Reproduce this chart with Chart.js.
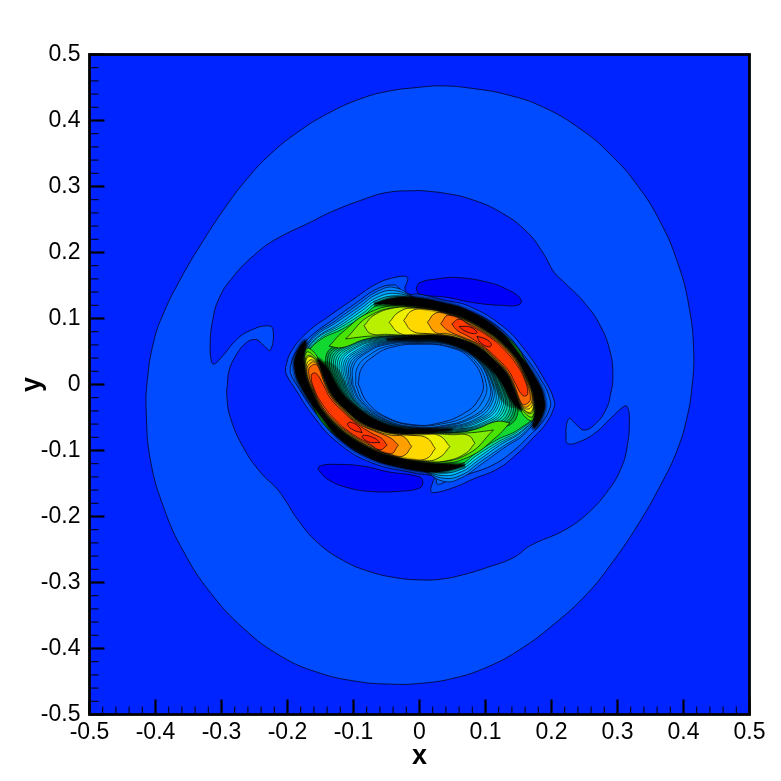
<!DOCTYPE html>
<html>
<head>
<meta charset="utf-8">
<title>contour</title>
<script src="https://cdn.jsdelivr.net/npm/chart.js@4/dist/chart.umd.min.js"></script>
<style>
  html, body { margin: 0; background: #fff; }
  canvas { display: block; }
</style>
</head>
<body>
<canvas id="chart" width="781" height="781"></canvas>
<script>
// axis values
const xMajor = [-0.5, -0.4, -0.3, -0.2, -0.1, 0, 0.1, 0.2, 0.3, 0.4, 0.5];
const yMajor = [-0.5, -0.4, -0.3, -0.2, -0.1, 0, 0.1, 0.2, 0.3, 0.4, 0.5];
const minorTicks = [-0.48, -0.46, -0.44, -0.42, -0.38, -0.36, -0.34, -0.32, -0.28, -0.26, -0.24, -0.22, -0.18, -0.16, -0.14, -0.12, -0.08, -0.06, -0.04, -0.02, 0.02, 0.04, 0.06, 0.08, 0.12, 0.14, 0.16, 0.18, 0.22, 0.24, 0.26, 0.28, 0.32, 0.34, 0.36, 0.38, 0.42, 0.44, 0.46, 0.48];

// contour lines, [x, y]
const field = [[-0.5, -0.5], [0.5, -0.5], [0.5, 0.5], [-0.5, 0.5]];
const outerBlob = [[0, 0.4505], [-0.044, 0.445], [-0.089, 0.433], [-0.14, 0.41], [-0.185, 0.382], [-0.226, 0.349], [-0.261, 0.312], [-0.296, 0.266], [-0.332, 0.211], [-0.362, 0.16], [-0.387, 0.11], [-0.403, 0.064], [-0.413, 0], [-0.414, -0.042], [-0.408, -0.113], [-0.387, -0.188], [-0.357, -0.254], [-0.317, -0.315], [-0.266, -0.37], [-0.211, -0.411], [-0.155, -0.436], [-0.094, -0.45], [-0.044, -0.454], [0, -0.453], [0.052, -0.445], [0.103, -0.428], [0.153, -0.401], [0.204, -0.363], [0.254, -0.317], [0.294, -0.267], [0.33, -0.214], [0.365, -0.153], [0.391, -0.098], [0.406, -0.047], [0.413, -0.002], [0.4155, 0.05], [0.408, 0.12], [0.391, 0.185], [0.365, 0.246], [0.33, 0.302], [0.289, 0.349], [0.244, 0.387], [0.188, 0.42], [0.133, 0.439], [0.077, 0.449], [0.032, 0.4525]];
const innerBlob = [[0, 0.294], [-0.049, 0.291], [-0.089, 0.279], [-0.135, 0.261], [-0.165, 0.246], [-0.216, 0.221], [-0.246, 0.2], [-0.281, 0.165], [-0.304, 0.13], [-0.314, 0.094], [-0.317, 0.064], [-0.316, 0.039], [-0.312, 0.031], [-0.302, 0.039], [-0.276, 0.069], [-0.256, 0.082], [-0.231, 0.089], [-0.222, 0.084], [-0.226, 0.052], [-0.236, 0.059], [-0.248, 0.068], [-0.264, 0.062], [-0.281, 0.039], [-0.289, 0.019], [-0.291, 0], [-0.292, -0.017], [-0.286, -0.052], [-0.266, -0.097], [-0.241, -0.133], [-0.216, -0.158], [-0.203, -0.176], [-0.185, -0.204], [-0.155, -0.239], [-0.115, -0.267], [-0.074, -0.284], [-0.034, -0.293], [0, -0.296], [0.032, -0.295], [0.067, -0.288], [0.103, -0.277], [0.143, -0.262], [0.168, -0.244], [0.219, -0.221], [0.254, -0.196], [0.284, -0.163], [0.305, -0.128], [0.315, -0.092], [0.318, -0.052], [0.315, -0.034], [0.31, -0.033], [0.289, -0.052], [0.264, -0.075], [0.239, -0.088], [0.226, -0.09], [0.222, -0.085], [0.226, -0.052], [0.239, -0.062], [0.249, -0.069], [0.264, -0.062], [0.282, -0.039], [0.29, -0.012], [0.293, 0.014], [0.289, 0.049], [0.274, 0.089], [0.249, 0.125], [0.219, 0.155], [0.204, 0.17], [0.188, 0.198], [0.163, 0.231], [0.123, 0.261], [0.077, 0.281], [0.037, 0.29]];
const lobeTop = [[-0.005, 0.145], [0, 0.154], [0.027, 0.16], [0.057, 0.162], [0.103, 0.155], [0.133, 0.144], [0.153, 0.13], [0.151, 0.121], [0.123, 0.12], [0.082, 0.124], [0.042, 0.132], [0, 0.137]];
const lobeBottom = [[-0.154, -0.128], [-0.15, -0.123], [-0.125, -0.121], [-0.084, -0.124], [-0.049, -0.132], [0, -0.14], [0.005, -0.148], [0, -0.157], [-0.034, -0.162], [-0.074, -0.162], [-0.11, -0.156], [-0.14, -0.143]];

const ring1 = [[-0.203, 0.026], [-0.195, 0.049], [-0.17, 0.079], [-0.135, 0.105], [-0.099, 0.13], [-0.064, 0.153], [-0.034, 0.163], [-0.019, 0.163], [-0.018, 0.158], [-0.022, 0.145], [-0.016, 0.137], [-0.002, 0.137], [0.037, 0.128], [0.074, 0.119], [0.125, 0.089], [0.16, 0.052], [0.19, 0.006], [0.204, -0.024], [0.203, -0.037], [0.191, -0.06], [0.173, -0.08], [0.148, -0.105], [0.118, -0.128], [0.082, -0.143], [0.052, -0.156], [0.022, -0.164], [0.017, -0.161], [0.02, -0.148], [0.022, -0.14], [0.012, -0.137], [-0.004, -0.135], [-0.074, -0.118], [-0.125, -0.087], [-0.16, -0.049], [-0.19, -0.004], [-0.202, 0.016]];
const ring2 = [[-0.196, 0.026], [-0.189, 0.046], [-0.165, 0.073], [-0.13, 0.099], [-0.094, 0.125], [-0.064, 0.145], [-0.039, 0.151], [-0.031, 0.146], [-0.026, 0.137], [-0.004, 0.131], [0.037, 0.123], [0.072, 0.113], [0.123, 0.084], [0.157, 0.046], [0.186, 0.004], [0.198, -0.024], [0.197, -0.037], [0.186, -0.057], [0.168, -0.076], [0.143, -0.1], [0.113, -0.121], [0.077, -0.135], [0.057, -0.14], [0.042, -0.146], [0.027, -0.151], [0.024, -0.14], [0.012, -0.133], [-0.004, -0.13], [-0.072, -0.113], [-0.122, -0.082], [-0.156, -0.045], [-0.185, -0.002], [-0.195, 0.016]];
const ring3 = [[-0.182, 0.037], [-0.162, 0.072], [-0.128, 0.096], [-0.092, 0.122], [-0.064, 0.141], [-0.038, 0.147], [-0.004, 0.13], [0.119, 0.081], [0.174, 0.003], [0.182, -0.037], [0.162, -0.072], [0.128, -0.096], [0.092, -0.122], [0.064, -0.141], [0.038, -0.147], [0.004, -0.13], [-0.119, -0.081], [-0.174, -0.003]];
const ring4 = [[-0.181, 0.038], [-0.16, 0.071], [-0.126, 0.094], [-0.091, 0.118], [-0.064, 0.137], [-0.037, 0.142], [-0.004, 0.13], [0.12, 0.081], [0.174, 0.003], [0.181, -0.038], [0.16, -0.071], [0.126, -0.094], [0.091, -0.118], [0.064, -0.137], [0.037, -0.142], [0.004, -0.13], [-0.12, -0.081], [-0.174, -0.003]];
const ring5 = [[-0.18, 0.038], [-0.157, 0.07], [-0.123, 0.091], [-0.089, 0.115], [-0.064, 0.132], [-0.036, 0.138], [-0.004, 0.129], [0.12, 0.08], [0.175, 0.002], [0.18, -0.038], [0.157, -0.07], [0.123, -0.091], [0.089, -0.115], [0.064, -0.132], [0.036, -0.138], [0.004, -0.129], [-0.12, -0.08], [-0.175, -0.002]];
const ring6 = [[-0.18, 0.039], [-0.155, 0.07], [-0.121, 0.089], [-0.087, 0.112], [-0.064, 0.128], [-0.036, 0.134], [-0.004, 0.128], [0.121, 0.08], [0.175, 0.002], [0.18, -0.039], [0.155, -0.07], [0.121, -0.089], [0.087, -0.112], [0.064, -0.128], [0.036, -0.134], [0.004, -0.128], [-0.121, -0.08], [-0.175, -0.002]];
const ring7 = [[-0.179, 0.04], [-0.152, 0.069], [-0.119, 0.087], [-0.086, 0.108], [-0.064, 0.124], [-0.035, 0.129], [-0.004, 0.128], [0.122, 0.08], [0.176, 0.001], [0.179, -0.04], [0.152, -0.069], [0.119, -0.087], [0.086, -0.108], [0.064, -0.124], [0.035, -0.129], [0.004, -0.128], [-0.122, -0.08], [-0.176, -0.001]];
const ring8 = [[-0.178, 0.041], [-0.15, 0.068], [-0.117, 0.084], [-0.084, 0.105], [-0.064, 0.12], [-0.034, 0.125], [-0.004, 0.127], [0.123, 0.079], [0.176, 0.001], [0.178, -0.041], [0.15, -0.068], [0.117, -0.084], [0.084, -0.105], [0.064, -0.12], [0.034, -0.125], [0.004, -0.127], [-0.123, -0.079], [-0.176, -0.001]];

const wall9 = [[-0.13, -0.004], [-0.142, 0.041], [-0.122, 0.062], [-0.079, 0.074], [0.002, 0.073], [0.057, 0.069], [0.108, 0.041], [0.14, -0.012], [0.148, -0.047], [0.123, -0.067], [0.072, -0.075], [-0.004, -0.072], [-0.059, -0.065], [-0.12, -0.024]];
const wall85 = [[-0.127, -0.004], [-0.139, 0.04], [-0.119, 0.06], [-0.077, 0.073], [0.002, 0.072], [0.056, 0.068], [0.106, 0.041], [0.137, -0.011], [0.144, -0.045], [0.119, -0.065], [0.069, -0.074], [-0.004, -0.071], [-0.058, -0.064], [-0.117, -0.024]];
const wall8 = [[-0.125, -0.004], [-0.136, 0.039], [-0.116, 0.059], [-0.075, 0.072], [0.002, 0.071], [0.056, 0.068], [0.104, 0.041], [0.135, -0.01], [0.141, -0.044], [0.116, -0.064], [0.067, -0.073], [-0.004, -0.071], [-0.058, -0.063], [-0.115, -0.025]];
const wall75 = [[-0.123, -0.003], [-0.133, 0.038], [-0.113, 0.058], [-0.073, 0.071], [0.002, 0.07], [0.055, 0.067], [0.103, 0.041], [0.132, -0.009], [0.138, -0.042], [0.113, -0.063], [0.064, -0.072], [-0.005, -0.07], [-0.057, -0.062], [-0.112, -0.025]];
const wall7 = [[-0.121, -0.003], [-0.13, 0.037], [-0.111, 0.057], [-0.071, 0.07], [0.002, 0.07], [0.055, 0.066], [0.101, 0.041], [0.13, -0.008], [0.135, -0.041], [0.11, -0.062], [0.062, -0.071], [-0.005, -0.07], [-0.057, -0.061], [-0.11, -0.025]];
const wall65 = [[-0.119, -0.003], [-0.127, 0.036], [-0.108, 0.056], [-0.069, 0.069], [0.002, 0.069], [0.055, 0.065], [0.099, 0.041], [0.127, -0.008], [0.131, -0.04], [0.107, -0.06], [0.06, -0.07], [-0.005, -0.069], [-0.056, -0.06], [-0.108, -0.025]];
const wall6 = [[-0.117, -0.002], [-0.124, 0.035], [-0.105, 0.055], [-0.067, 0.068], [0.002, 0.069], [0.054, 0.065], [0.097, 0.041], [0.125, -0.007], [0.128, -0.038], [0.104, -0.059], [0.057, -0.069], [-0.005, -0.068], [-0.056, -0.06], [-0.106, -0.025]];
const wall55 = [[-0.115, -0.002], [-0.121, 0.034], [-0.102, 0.054], [-0.065, 0.067], [0.002, 0.068], [0.053, 0.064], [0.095, 0.04], [0.122, -0.006], [0.125, -0.037], [0.101, -0.058], [0.054, -0.068], [-0.006, -0.068], [-0.055, -0.059], [-0.104, -0.025]];
const wall5 = [[-0.113, -0.002], [-0.118, 0.033], [-0.1, 0.053], [-0.063, 0.066], [0.002, 0.067], [0.053, 0.063], [0.094, 0.04], [0.12, -0.005], [0.122, -0.036], [0.098, -0.057], [0.052, -0.068], [-0.006, -0.067], [-0.055, -0.058], [-0.102, -0.025]];
const wall45 = [[-0.111, -0.002], [-0.115, 0.032], [-0.097, 0.051], [-0.061, 0.065], [0.002, 0.066], [0.052, 0.062], [0.092, 0.04], [0.118, -0.004], [0.119, -0.034], [0.095, -0.055], [0.049, -0.067], [-0.006, -0.066], [-0.054, -0.057], [-0.099, -0.025]];
const wall4 = [[-0.109, -0.001], [-0.112, 0.032], [-0.094, 0.05], [-0.06, 0.064], [0.002, 0.066], [0.051, 0.062], [0.091, 0.04], [0.116, -0.003], [0.116, -0.033], [0.092, -0.054], [0.047, -0.066], [-0.006, -0.066], [-0.053, -0.056], [-0.097, -0.026]];
const wall35 = [[-0.107, -0.001], [-0.109, 0.031], [-0.091, 0.049], [-0.058, 0.063], [0.002, 0.065], [0.05, 0.061], [0.089, 0.04], [0.113, -0.003], [0.113, -0.032], [0.089, -0.053], [0.044, -0.065], [-0.006, -0.065], [-0.052, -0.056], [-0.095, -0.026]];
const wall3 = [[-0.105, -0.001], [-0.106, 0.03], [-0.088, 0.048], [-0.056, 0.062], [0.002, 0.065], [0.05, 0.06], [0.087, 0.04], [0.111, -0.002], [0.109, -0.03], [0.086, -0.052], [0.042, -0.064], [-0.007, -0.065], [-0.052, -0.055], [-0.093, -0.026]];
const wall25 = [[-0.103, 0], [-0.103, 0.029], [-0.085, 0.047], [-0.054, 0.061], [0.002, 0.064], [0.049, 0.06], [0.085, 0.04], [0.108, -0.001], [0.106, -0.029], [0.082, -0.05], [0.039, -0.063], [-0.007, -0.065], [-0.051, -0.054], [-0.09, -0.026]];
const wall2 = [[-0.101, 0], [-0.1, 0.028], [-0.083, 0.046], [-0.052, 0.06], [0.002, 0.063], [0.049, 0.059], [0.084, 0.04], [0.106, 0], [0.103, -0.027], [0.079, -0.049], [0.037, -0.062], [-0.007, -0.064], [-0.051, -0.053], [-0.088, -0.026]];
const wall1 = [[-0.097, 0], [-0.094, 0.026], [-0.077, 0.044], [-0.048, 0.058], [0.002, 0.062], [0.048, 0.057], [0.081, 0.039], [0.101, 0.002], [0.096, -0.025], [0.073, -0.047], [0.032, -0.06], [-0.008, -0.062], [-0.05, -0.051], [-0.084, -0.027]];
const hole = [[-0.093, 0.001], [-0.088, 0.024], [-0.072, 0.041], [-0.044, 0.056], [0.002, 0.061], [0.047, 0.056], [0.077, 0.039], [0.096, 0.004], [0.09, -0.022], [0.067, -0.044], [0.027, -0.059], [-0.009, -0.061], [-0.049, -0.05], [-0.079, -0.027]];

const limeTop = [[-0.137, 0.058], [-0.117, 0.079], [-0.074, 0.11], [-0.024, 0.12], [0.037, 0.112], [0.077, 0.098], [0.11, 0.077], [0.134, 0.057], [0.152, 0.035], [0.164, 0.011], [0.174, -0.019], [0.172, -0.054], [0.158, -0.047], [0.151, -0.029], [0.141, -0.004], [0.13, 0.018], [0.113, 0.036], [0.09, 0.056], [0.062, 0.068], [0.037, 0.073], [-0.009, 0.074], [-0.054, 0.073], [-0.084, 0.068], [-0.117, 0.056]];
const limeBot = [[0.137, -0.058], [0.117, -0.079], [0.074, -0.11], [0.024, -0.12], [-0.037, -0.112], [-0.077, -0.098], [-0.11, -0.077], [-0.134, -0.057], [-0.152, -0.035], [-0.164, -0.011], [-0.174, 0.019], [-0.172, 0.054], [-0.158, 0.047], [-0.151, 0.029], [-0.141, 0.004], [-0.13, -0.018], [-0.113, -0.036], [-0.09, -0.056], [-0.062, -0.068], [-0.037, -0.073], [0.009, -0.074], [0.054, -0.073], [0.084, -0.068], [0.117, -0.056]];
const pearTop = [[-0.112, 0.069], [-0.074, 0.105], [-0.024, 0.117], [0.037, 0.111], [0.077, 0.097], [0.11, 0.076], [0.134, 0.056], [0.152, 0.034], [0.163, 0.011], [0.173, -0.019], [0.171, -0.049], [0.153, -0.034], [0.141, -0.004], [0.13, 0.018], [0.113, 0.036], [0.09, 0.056], [0.062, 0.068], [0.037, 0.073], [-0.009, 0.074], [-0.049, 0.074], [-0.079, 0.073], [-0.097, 0.071]];
const pearBot = [[0.112, -0.069], [0.074, -0.105], [0.024, -0.117], [-0.037, -0.111], [-0.077, -0.097], [-0.11, -0.076], [-0.134, -0.056], [-0.152, -0.034], [-0.163, -0.011], [-0.173, 0.019], [-0.171, 0.049], [-0.153, 0.034], [-0.141, 0.004], [-0.13, -0.018], [-0.113, -0.036], [-0.09, -0.056], [-0.062, -0.068], [-0.037, -0.073], [0.009, -0.074], [0.049, -0.074], [0.079, -0.073], [0.097, -0.071]];
const citrusTop = [[-0.084, 0.089], [-0.069, 0.105], [-0.039, 0.116], [-0.009, 0.117], [0.037, 0.11], [0.077, 0.096], [0.11, 0.076], [0.133, 0.055], [0.152, 0.033], [0.163, 0.011], [0.173, -0.019], [0.169, -0.044], [0.152, -0.03], [0.142, -0.004], [0.131, 0.018], [0.113, 0.036], [0.09, 0.056], [0.063, 0.068], [0.037, 0.073], [-0.009, 0.074], [-0.049, 0.076], [-0.074, 0.077]];
const citrusBot = [[0.084, -0.089], [0.069, -0.105], [0.039, -0.116], [0.009, -0.117], [-0.037, -0.11], [-0.077, -0.096], [-0.11, -0.076], [-0.133, -0.055], [-0.152, -0.033], [-0.163, -0.011], [-0.173, 0.019], [-0.169, 0.044], [-0.152, 0.03], [-0.142, 0.004], [-0.131, -0.018], [-0.113, -0.036], [-0.09, -0.056], [-0.063, -0.068], [-0.037, -0.073], [0.009, -0.074], [0.049, -0.076], [0.074, -0.077]];
const yellowTop = [[-0.046, 0.094], [-0.031, 0.11], [-0.009, 0.116], [0.037, 0.11], [0.077, 0.096], [0.11, 0.075], [0.133, 0.055], [0.152, 0.033], [0.163, 0.011], [0.173, -0.019], [0.168, -0.042], [0.151, -0.029], [0.142, -0.004], [0.131, 0.018], [0.113, 0.037], [0.09, 0.056], [0.063, 0.068], [0.037, 0.074], [-0.009, 0.075], [-0.031, 0.078]];
const yellowBot = [[0.046, -0.094], [0.031, -0.11], [0.009, -0.116], [-0.037, -0.11], [-0.077, -0.096], [-0.11, -0.075], [-0.133, -0.055], [-0.152, -0.033], [-0.163, -0.011], [-0.173, 0.019], [-0.168, 0.042], [-0.151, 0.029], [-0.142, 0.004], [-0.131, -0.018], [-0.113, -0.037], [-0.09, -0.056], [-0.063, -0.068], [-0.037, -0.074], [0.009, -0.075], [0.031, -0.078]];
const goldTop = [[-0.024, 0.097], [-0.011, 0.112], [0.012, 0.114], [0.037, 0.109], [0.076, 0.095], [0.109, 0.075], [0.132, 0.055], [0.151, 0.033], [0.162, 0.01], [0.172, -0.02], [0.166, -0.037], [0.152, -0.029], [0.143, -0.003], [0.132, 0.019], [0.114, 0.037], [0.091, 0.057], [0.063, 0.069], [0.037, 0.075], [0.012, 0.077], [-0.011, 0.081]];
const goldBot = [[0.024, -0.097], [0.011, -0.112], [-0.012, -0.114], [-0.037, -0.109], [-0.076, -0.095], [-0.109, -0.075], [-0.132, -0.055], [-0.151, -0.033], [-0.162, -0.01], [-0.172, 0.02], [-0.166, 0.037], [-0.152, 0.029], [-0.143, 0.003], [-0.132, -0.019], [-0.114, -0.037], [-0.091, -0.057], [-0.063, -0.069], [-0.037, -0.075], [-0.012, -0.077], [0.011, -0.081]];
const orangeTop = [[0.012, 0.094], [0.024, 0.108], [0.042, 0.107], [0.076, 0.094], [0.108, 0.074], [0.132, 0.054], [0.15, 0.032], [0.161, 0.01], [0.171, -0.02], [0.163, -0.034], [0.153, -0.028], [0.143, -0.003], [0.132, 0.019], [0.115, 0.038], [0.092, 0.058], [0.064, 0.071], [0.042, 0.077], [0.024, 0.079]];
const orangeBot = [[-0.012, -0.094], [-0.024, -0.108], [-0.042, -0.107], [-0.076, -0.094], [-0.108, -0.074], [-0.132, -0.054], [-0.15, -0.032], [-0.161, -0.01], [-0.171, 0.02], [-0.163, 0.034], [-0.153, 0.028], [-0.143, 0.003], [-0.132, -0.019], [-0.115, -0.038], [-0.092, -0.058], [-0.064, -0.071], [-0.042, -0.077], [-0.024, -0.079]];
const deepTop = [[0.032, 0.092], [0.044, 0.105], [0.075, 0.092], [0.107, 0.073], [0.131, 0.053], [0.149, 0.031], [0.16, 0.009], [0.168, -0.021], [0.161, -0.03], [0.154, -0.028], [0.144, -0.002], [0.133, 0.02], [0.116, 0.039], [0.093, 0.059], [0.065, 0.072], [0.044, 0.081]];
const deepBot = [[-0.032, -0.092], [-0.044, -0.105], [-0.075, -0.092], [-0.107, -0.073], [-0.131, -0.053], [-0.149, -0.031], [-0.16, -0.009], [-0.168, 0.021], [-0.161, 0.03], [-0.154, 0.028], [-0.144, 0.002], [-0.133, -0.02], [-0.116, -0.039], [-0.093, -0.059], [-0.065, -0.072], [-0.044, -0.081]];
const redTop = [[0.049, 0.092], [0.06, 0.099], [0.074, 0.091], [0.106, 0.072], [0.129, 0.052], [0.147, 0.03], [0.159, 0.008], [0.164, -0.014], [0.157, -0.017], [0.146, 0], [0.135, 0.021], [0.117, 0.04], [0.094, 0.06], [0.072, 0.074], [0.057, 0.082]];
const redBot = [[-0.049, -0.092], [-0.06, -0.099], [-0.074, -0.091], [-0.106, -0.072], [-0.129, -0.052], [-0.147, -0.03], [-0.159, -0.008], [-0.164, 0.014], [-0.157, 0.017], [-0.146, 0], [-0.135, -0.021], [-0.117, -0.04], [-0.094, -0.06], [-0.072, -0.074], [-0.057, -0.082]];
const peakTopA = [[0.06, 0.088], [0.077, 0.087], [0.087, 0.079], [0.082, 0.077], [0.067, 0.082]];
const peakTopB = [[0.087, 0.073], [0.1, 0.069], [0.109, 0.061], [0.105, 0.057], [0.092, 0.064]];
const peakBotA = [[-0.06, -0.088], [-0.077, -0.087], [-0.087, -0.079], [-0.082, -0.077], [-0.067, -0.082]];
const peakBotB = [[-0.087, -0.073], [-0.1, -0.069], [-0.109, -0.061], [-0.105, -0.057], [-0.092, -0.064]];

const darkOuterTop = [[-0.069, 0.122], [-0.039, 0.131], [-0.004, 0.131], [0.037, 0.123], [0.072, 0.112], [0.118, 0.084], [0.151, 0.046], [0.178, 0.006], [0.189, -0.024], [0.186, -0.047], [0.173, -0.065], [0.176, -0.034], [0.163, 0.011], [0.134, 0.056], [0.087, 0.091], [0.037, 0.111], [-0.009, 0.119], [-0.039, 0.121]];
const darkOuterBot = [[0.069, -0.122], [0.039, -0.131], [0.004, -0.131], [-0.037, -0.123], [-0.072, -0.112], [-0.118, -0.084], [-0.151, -0.046], [-0.178, -0.006], [-0.189, 0.024], [-0.186, 0.047], [-0.173, 0.065], [-0.176, 0.034], [-0.163, -0.011], [-0.134, -0.056], [-0.087, -0.091], [-0.037, -0.111], [0.009, -0.119], [0.039, -0.121]];
const darkInnerTop = [[-0.05, 0.068], [-0.034, 0.07], [0.002, 0.074], [0.037, 0.073], [0.062, 0.068], [0.09, 0.056], [0.113, 0.036], [0.13, 0.018], [0.141, -0.004], [0.151, -0.029], [0.153, -0.038], [0.14, -0.024], [0.128, -0.002], [0.113, 0.019], [0.09, 0.039], [0.062, 0.056], [0.027, 0.067], [-0.009, 0.068]];
const darkInnerBot = [[0.05, -0.068], [0.034, -0.07], [-0.002, -0.074], [-0.037, -0.073], [-0.062, -0.068], [-0.09, -0.056], [-0.113, -0.036], [-0.13, -0.018], [-0.141, 0.004], [-0.151, 0.029], [-0.153, 0.038], [-0.14, 0.024], [-0.128, 0.002], [-0.113, -0.019], [-0.09, -0.039], [-0.062, -0.056], [-0.027, -0.067], [0.009, -0.068]];
const shadeTop = [[-0.009, 0.068], [0.027, 0.068], [0.062, 0.058], [0.092, 0.04], [0.116, 0.019], [0.133, -0.007], [0.145, -0.034], [0.128, -0.029], [0.114, -0.007], [0.103, 0.016], [0.083, 0.041], [0.057, 0.057], [0.027, 0.064], [-0.004, 0.067]];
const shadeBot = [[0.009, -0.068], [-0.027, -0.068], [-0.062, -0.058], [-0.092, -0.04], [-0.116, -0.019], [-0.133, 0.007], [-0.145, 0.034], [-0.128, 0.029], [-0.114, 0.007], [-0.103, -0.016], [-0.083, -0.041], [-0.057, -0.057], [-0.027, -0.064], [0.004, -0.067]];

const LINE = 'rgba(0,0,20,0.85)';
const SOFT = 'rgba(0,0,0,0.5)';
const HAZE = 'rgba(0,0,0,0.28)';
const NONE = 'rgba(0,0,0,0)';

// back to front: points, fill colour, line colour, line width
const layers = [
  [field, '#0024ff', NONE, 0],
  [outerBlob, '#004aff', LINE, 0.9],
  [innerBlob, '#0024ff', LINE, 0.9],
  [lobeTop, '#0000f8', LINE, 0.9],
  [lobeBottom, '#0000f8', LINE, 0.9],
  [ring1, '#004aff', LINE, 0.9],
  [ring2, '#0062ff', LINE, 0.9],
  [ring3, '#0080ff', LINE, 0.8],
  [ring4, '#00a0ff', LINE, 0.8],
  [ring5, '#00c4ff', LINE, 0.8],
  [ring6, '#00e0e0', LINE, 0.8],
  [ring7, '#00e090', LINE, 0.8],
  [ring8, '#10d830', LINE, 0.8],
  [wall9, '#00a838', LINE, 0.8],
  [wall85, '#00b858', LINE, 0.8],
  [wall8, '#00c878', LINE, 0.8],
  [wall75, '#00d090', LINE, 0.8],
  [wall7, '#00d8a8', LINE, 0.8],
  [wall65, '#00e0c0', LINE, 0.8],
  [wall6, '#00e8d8', LINE, 0.8],
  [wall55, '#00e8f0', LINE, 0.8],
  [wall5, '#00dcff', LINE, 0.8],
  [wall45, '#00ccff', LINE, 0.8],
  [wall4, '#00bcff', LINE, 0.8],
  [wall35, '#00a8ff', LINE, 0.8],
  [wall3, '#0098ff', LINE, 0.8],
  [wall25, '#0088ff', LINE, 0.8],
  [wall2, '#0080ff', LINE, 0.8],
  [wall1, '#0074ff', LINE, 0.8],
  [hole, '#0068ff', LINE, 0.9],
  [limeTop, '#48e400', LINE, 0.8],
  [limeBot, '#48e400', LINE, 0.8],
  [pearTop, '#80ec00', LINE, 0.8],
  [pearBot, '#80ec00', LINE, 0.8],
  [citrusTop, '#b8f000', LINE, 0.8],
  [citrusBot, '#b8f000', LINE, 0.8],
  [yellowTop, '#eef000', LINE, 0.8],
  [yellowBot, '#eef000', LINE, 0.8],
  [goldTop, '#ffd800', LINE, 0.8],
  [goldBot, '#ffd800', LINE, 0.8],
  [orangeTop, '#ffa000', LINE, 0.8],
  [orangeBot, '#ffa000', LINE, 0.8],
  [deepTop, '#ff6800', LINE, 0.8],
  [deepBot, '#ff6800', LINE, 0.8],
  [redTop, '#ff3a00', LINE, 0.8],
  [redBot, '#ff3a00', LINE, 0.8],
  [peakTopA, '#ff2800', LINE, 0.9],
  [peakTopB, '#ff2800', LINE, 0.9],
  [peakBotA, '#ff2800', LINE, 0.9],
  [peakBotB, '#ff2800', LINE, 0.9],
  [shadeTop, 'rgba(0,25,0,0.4)', NONE, 0],
  [shadeBot, 'rgba(0,25,0,0.4)', NONE, 0],
  [darkOuterTop, '#000', HAZE, 6],
  [darkOuterBot, '#000', HAZE, 6],
  [darkOuterTop, '#000', SOFT, 3],
  [darkOuterBot, '#000', SOFT, 3],
  [darkInnerTop, '#000', HAZE, 5],
  [darkInnerBot, '#000', HAZE, 5],
  [darkInnerTop, '#000', SOFT, 2.5],
  [darkInnerBot, '#000', SOFT, 2.5]
];

const datasets = layers.map(([pts, color, line, width], i) => ({
  data: pts.concat([pts[0]]).map(p => ({ x: p[0], y: p[1] })),
  showLine: true,
  fill: 'shape',
  backgroundColor: color,
  borderColor: line,
  borderWidth: width,
  pointRadius: 0,
  tension: 0.45,
  order: layers.length - i
}));

// Tecplot style frame and inward ticks
const frame = {
  id: 'frame',
  afterDraw(chart) {
    const { ctx, chartArea: a, scales: { x, y } } = chart;
    ctx.save();
    ctx.strokeStyle = '#000';
    const tick = (x1, y1, x2, y2, w) => {
      ctx.lineWidth = w;
      ctx.beginPath();
      ctx.moveTo(x1, y1);
      ctx.lineTo(x2, y2);
      ctx.stroke();
    };
    minorTicks.forEach(v => {
      tick(x.getPixelForValue(v), a.bottom, x.getPixelForValue(v), a.bottom - 8, 1);
      tick(a.left, y.getPixelForValue(v), a.left + 9, y.getPixelForValue(v), 1);
    });
    xMajor.forEach(v => tick(x.getPixelForValue(v), a.bottom, x.getPixelForValue(v), a.bottom - 15, 2.2));
    yMajor.forEach(v => tick(a.left, y.getPixelForValue(v), a.left + 15, y.getPixelForValue(v), 2.2));
    ctx.lineWidth = 2.8;
    ctx.strokeRect(a.left, a.top, a.right - a.left, a.bottom - a.top);
    ctx.restore();
  }
};

const label = v => (Math.abs(v) < 1e-9 ? '0' : v.toFixed(1));
const tickFont = { family: '"Liberation Sans", Arial, sans-serif', size: 23 };
const titleFont = { family: '"Liberation Sans", Arial, sans-serif', size: 27, weight: 'bold' };

new Chart(document.getElementById('chart'), {
  type: 'scatter',
  data: { datasets },
  options: {
    responsive: false,
    animation: false,
    events: [],
    layout: { padding: { top: 54.5, right: 31.5, left: 0, bottom: 0 } },
    plugins: { legend: { display: false }, tooltip: { enabled: false } },
    scales: {
      x: {
        min: -0.5,
        max: 0.5,
        afterFit(s) { s.height = 66.5; },
        afterBuildTicks(s) { s.ticks = xMajor.map(v => ({ value: v })); },
        grid: { display: false, drawTicks: false },
        border: { display: false },
        ticks: { color: '#000', font: tickFont, padding: 4, maxRotation: 0, autoSkip: false, callback: label },
        title: { display: true, text: 'x', color: '#000', font: titleFont, padding: { top: 0, bottom: 8 } }
      },
      y: {
        min: -0.5,
        max: 0.5,
        afterFit(s) { s.width = 89.5; },
        afterBuildTicks(s) { s.ticks = yMajor.map(v => ({ value: v })); },
        grid: { display: false, drawTicks: false },
        border: { display: false },
        ticks: { color: '#000', font: tickFont, padding: 9, autoSkip: false, callback: label },
        title: { display: true, text: 'y', color: '#000', font: titleFont, padding: { top: 16, bottom: 0 } }
      }
    }
  },
  plugins: [frame]
});
</script>
</body>
</html>
